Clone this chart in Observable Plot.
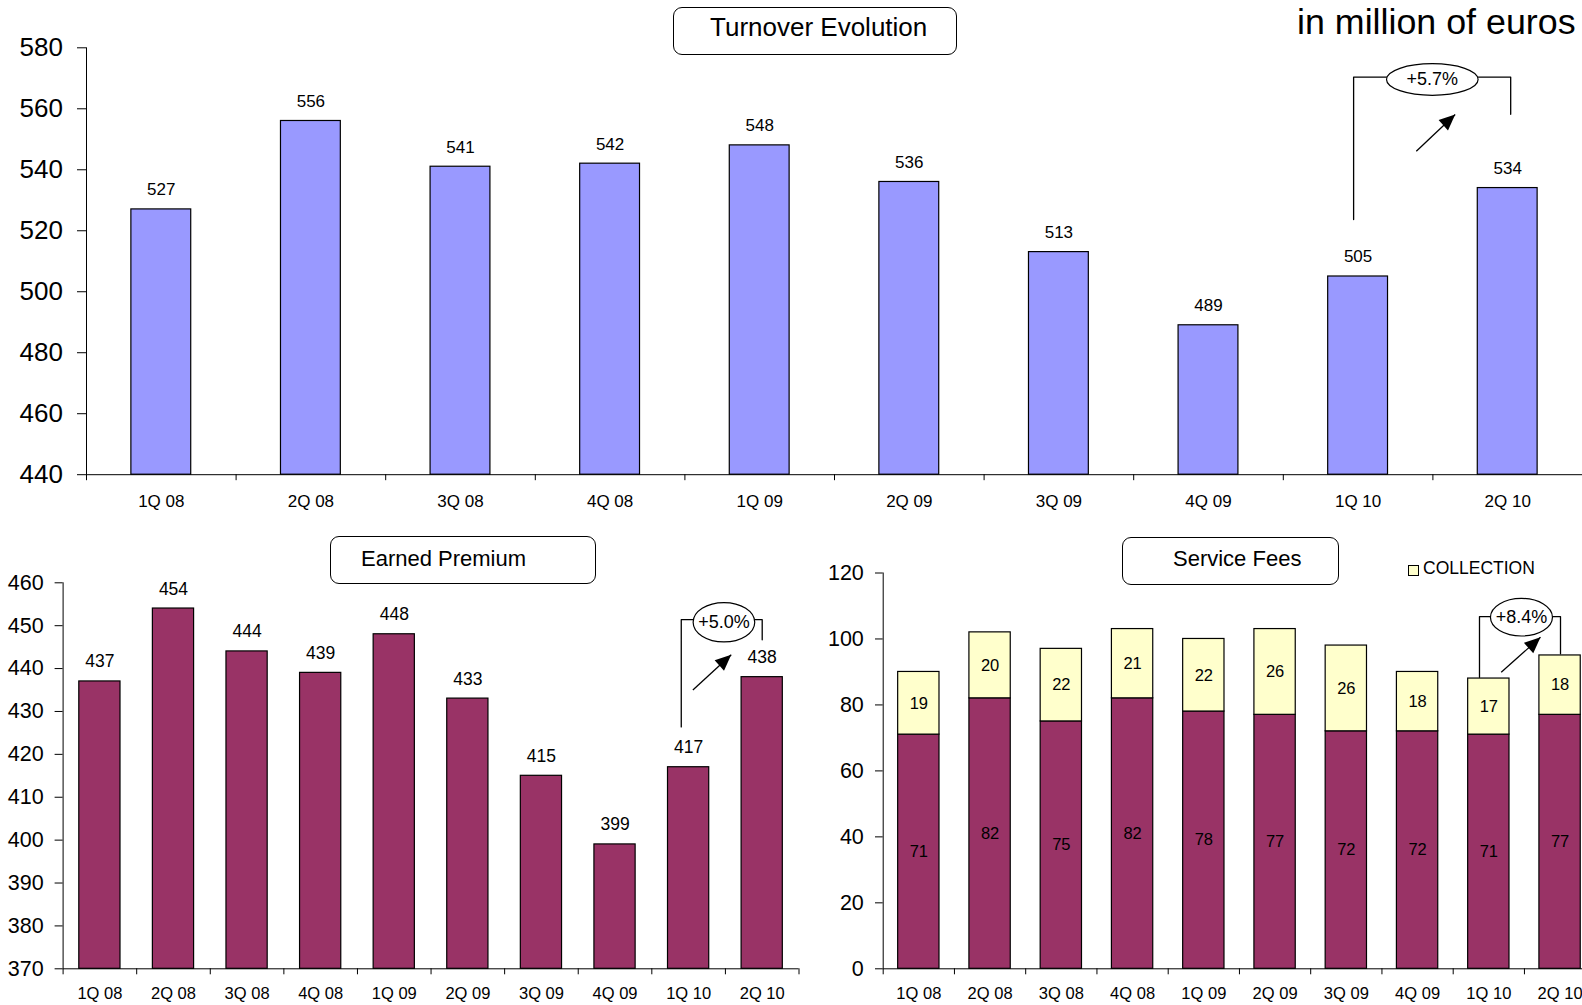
<!DOCTYPE html>
<html><head><meta charset="utf-8">
<script src="https://cdn.jsdelivr.net/npm/d3@7"></script>
<script src="https://cdn.jsdelivr.net/npm/@observablehq/plot@0.6"></script>
<style>
html,body{margin:0;padding:0;background:#fff;}
#page{position:relative;width:1582px;height:1005px;overflow:hidden;font-family:'Liberation Sans',Arial,sans-serif;color:#000;background:#fff;}
.box{position:absolute;border:1.3px solid #000;border-radius:9px;box-sizing:border-box;background:#fff;}
.txt{position:absolute;line-height:1;white-space:nowrap;}
.sw{position:absolute;width:9px;height:9px;border:1px solid #000;background:#FFFFCC;}
</style></head>
<body><div id="page">
<div class="txt" style="left:1297px;top:5px;font-size:35.8px;">in million of euros</div>
</div>
<script>
// ---- data ----
const quarters = ["1Q 08","2Q 08","3Q 08","4Q 08","1Q 09","2Q 09","3Q 09","4Q 09","1Q 10","2Q 10"];
const turnover = [527, 556, 541, 542, 548, 536, 513, 489, 505, 534];
const earnedPremium = [437, 454, 444, 439, 448, 433, 415, 399, 417, 438];
const serviceFeesBase = [71, 82, 75, 82, 78, 77, 72, 72, 71, 77];
const serviceFeesCollection = [19, 20, 22, 21, 22, 26, 26, 18, 17, 18];
const turnoverTicks = [440, 460, 480, 500, 520, 540, 560, 580];
const premiumTicks = [370, 380, 390, 400, 410, 420, 430, 440, 450, 460];
const feesTicks = [0, 20, 40, 60, 80, 100, 120];
const titles = ["Turnover Evolution", "Earned Premium", "Service Fees"];
const legendLabel = "COLLECTION";
const growthLabels = ["+5.7%", "+5.0%", "+8.4%"];

// annotation geometry (data units: x = quarter index, y = value)
const turnoverNote = {bracket: [[7.97,523.7],[7.97,570.4],[9.02,570.4],[9.02,558.2]], center: [8.496,569.6], arrow: [8.389,546.1,8.649,558.1]};
const premiumNote = {bracket: [[7.9,426.4],[7.9,451.4],[9.0,451.4],[9.0,446.7]], center: [8.48,450.8], arrow: [8.058,435.0,8.579,443.2]};
const feesNote = {bracket: [[7.869,88.4],[7.869,106.8],[9.006,106.8],[9.006,95.5]], center: [8.458,106.6], arrow: [8.174,89.9,8.725,100.5]};

const fontFamily = "'Liberation Sans', Arial, sans-serif";
const page = document.getElementById("page");

function ellipseSymbol(rx, ry) {
  const k = 0.5522847;
  return {draw(c) {
    c.moveTo(rx, 0);
    c.bezierCurveTo(rx, ry*k, rx*k, ry, 0, ry);
    c.bezierCurveTo(-rx*k, ry, -rx, ry*k, -rx, 0);
    c.bezierCurveTo(-rx, -ry*k, -rx*k, -ry, 0, -ry);
    c.bezierCurveTo(rx*k, -ry, rx, -ry*k, rx, 0);
    c.closePath();
  }};
}
function headSymbol(angleDeg, len, hw) {
  const a = angleDeg*Math.PI/180, ux = Math.cos(a), uy = Math.sin(a), px = -uy, py = ux;
  return {draw(c) {
    c.moveTo(0, 0);
    c.lineTo(-len*ux + hw*px, -len*uy + hw*py);
    c.lineTo(-len*ux - hw*px, -len*uy - hw*py);
    c.closePath();
  }};
}
function noteMarks(note, label, rx, ry) {
  const [x1, y1, x2, y2] = note.arrow;
  return [
    Plot.line(note.bracket, {x: d => d[0], y: d => d[1], stroke: "#000", strokeWidth: 1.3}),
    Plot.link([note.arrow], {x1: () => x1, y1: () => y1, x2: () => x2, y2: () => y2, stroke: "#000", strokeWidth: 1.3}),
    Plot.dot([[x2, y2]], {x: d => d[0], y: d => d[1], symbol: headSymbol(-42, 16, 7), fill: "#000", stroke: "none"}),
    Plot.dot([note.center], {x: d => d[0], y: d => d[1], symbol: ellipseSymbol(rx, ry), fill: "#fff", stroke: "#000", strokeWidth: 1.2}),
    Plot.text([note.center], {x: d => d[0], y: d => d[1], text: () => label, fontSize: 18})
  ];
}
function place(svg, left, top) {
  svg.style.position = "absolute";
  svg.style.left = left + "px";
  svg.style.top = top + "px";
  page.appendChild(svg);
}
const idx = quarters.map((q, i) => i);
const bounds = d3.range(quarters.length + 1).map(k => k - 0.5);

// ---- Turnover ----
const topData = quarters.map((q, i) => ({i, q, v: turnover[i]}));
const tw = 0.4;
place(Plot.plot({
  width: 1582, height: 520,
  marginLeft: 86, marginRight: 0, marginTop: 47.3, marginBottom: 45.8,
  x: {type: "linear", domain: [-0.5, 9.5]},
  y: {domain: [440, 580]},
  style: {fontFamily, background: "transparent", color: "#000", maxWidth: "none", overflow: "visible"},
  marks: [
    Plot.rectY(topData, {x1: d => d.i - tw/2, x2: d => d.i + tw/2, y1: 440, y2: "v", fill: "#9999FF", stroke: "#000", strokeWidth: 1.2}),
    Plot.ruleY([440], {stroke: "#000"}),
    Plot.ruleX([-0.5], {y1: 440, y2: 580, stroke: "#000"}),
    Plot.axisY({ticks: turnoverTicks, tickSize: 9, tickPadding: 14.5, fontSize: 26, label: null}),
    Plot.axisX({ticks: bounds, tickSize: 6, tickFormat: () => "", label: null}),
    Plot.axisX({ticks: idx, tickSize: 0, tickPadding: 20.5, tickFormat: k => quarters[k], fontSize: 17, label: null}),
    Plot.text(topData, {x: "i", y: "v", text: "v", lineAnchor: "bottom", dy: -14, fontSize: 17}),
    ...noteMarks(turnoverNote, growthLabels[0], 45.8, 15.8)
  ]
}), 0, 0);

// ---- Earned Premium ----
const epData = quarters.map((q, i) => ({i, q, v: earnedPremium[i]}));
const ew = 0.56;
place(Plot.plot({
  width: 810, height: 465,
  marginLeft: 62.6, marginRight: 11.5, marginTop: 42.3, marginBottom: 36.7,
  x: {type: "linear", domain: [-0.5, 9.5]},
  y: {domain: [370, 460]},
  style: {fontFamily, background: "transparent", color: "#000", maxWidth: "none", overflow: "visible"},
  marks: [
    Plot.rectY(epData, {x1: d => d.i - ew/2, x2: d => d.i + ew/2, y1: 370, y2: "v", fill: "#993366", stroke: "#000", strokeWidth: 1.2}),
    Plot.ruleY([370], {stroke: "#000"}),
    Plot.ruleX([-0.5], {y1: 370, y2: 460, stroke: "#000"}),
    Plot.axisY({ticks: premiumTicks, tickSize: 8, tickPadding: 11.5, fontSize: 21.5, label: null}),
    Plot.axisX({ticks: bounds, tickSize: 6, tickFormat: () => "", label: null}),
    Plot.axisX({ticks: idx, tickSize: 0, tickPadding: 18, tickFormat: k => quarters[k], fontSize: 16.5, label: null}),
    Plot.text(epData, {x: "i", y: "v", text: "v", lineAnchor: "bottom", dy: -14, fontSize: 17.5}),
    ...noteMarks(premiumNote, growthLabels[1], 30.8, 19.7)
  ]
}), 0, 540);

// ---- Service Fees ----
const sfData = quarters.flatMap((q, i) => [
  {i, series: "BASE", y1: 0, y2: serviceFeesBase[i], v: serviceFeesBase[i]},
  {i, series: legendLabel, y1: serviceFeesBase[i], y2: serviceFeesBase[i] + serviceFeesCollection[i], v: serviceFeesCollection[i]}
]);
const sw = 0.58;
place(Plot.plot({
  width: 780, height: 465,
  marginLeft: 62.7, marginRight: 4.8, marginTop: 32.5, marginBottom: 36.7,
  x: {type: "linear", domain: [-0.5, 9.5]},
  y: {domain: [0, 120]},
  color: {domain: ["BASE", legendLabel], range: ["#993366", "#FFFFCC"]},
  style: {fontFamily, background: "transparent", color: "#000", maxWidth: "none", overflow: "visible"},
  marks: [
    Plot.rectY(sfData, {x1: d => d.i - sw/2, x2: d => d.i + sw/2, y1: "y1", y2: "y2", fill: "series", stroke: "#000", strokeWidth: 1.2}),
    Plot.ruleY([0], {stroke: "#000"}),
    Plot.ruleX([-0.5], {y1: 0, y2: 120, stroke: "#000"}),
    Plot.axisY({ticks: feesTicks, tickSize: 7.7, tickPadding: 11.7, fontSize: 21.5, label: null}),
    Plot.axisX({ticks: bounds, tickSize: 6, tickFormat: () => "", label: null}),
    Plot.axisX({ticks: idx, tickSize: 0, tickPadding: 18, tickFormat: k => quarters[k], fontSize: 16.5, label: null}),
    Plot.text(sfData, {x: "i", y: d => (d.y1 + d.y2)/2, text: "v", fontSize: 16.5}),
    ...noteMarks(feesNote, growthLabels[2], 31, 18.8)
  ]
}), 820, 540);

// ---- titles & legend ----
function addBox(l, t, w, h) { const b = document.createElement("div"); b.className = "box"; Object.assign(b.style, {left: l+"px", top: t+"px", width: w+"px", height: h+"px"}); page.appendChild(b); }
function addText(str, l, t, fs) { const s = document.createElement("div"); s.className = "txt"; s.textContent = str; Object.assign(s.style, {left: l+"px", top: t+"px", fontSize: fs+"px"}); page.appendChild(s); }
addBox(673, 7, 284, 47.5); addText(titles[0], 710, 14, 26);
addBox(330, 536, 265.5, 47.5); addText(titles[1], 361, 547.5, 22);
addBox(1122, 537, 216.5, 47.5); addText(titles[2], 1173, 547.5, 22);
const swatch = document.createElement("div"); swatch.className = "sw"; Object.assign(swatch.style, {left: "1408px", top: "565px"}); page.appendChild(swatch);
addText(legendLabel, 1423, 559.5, 17.5);
</script>
</body></html>
